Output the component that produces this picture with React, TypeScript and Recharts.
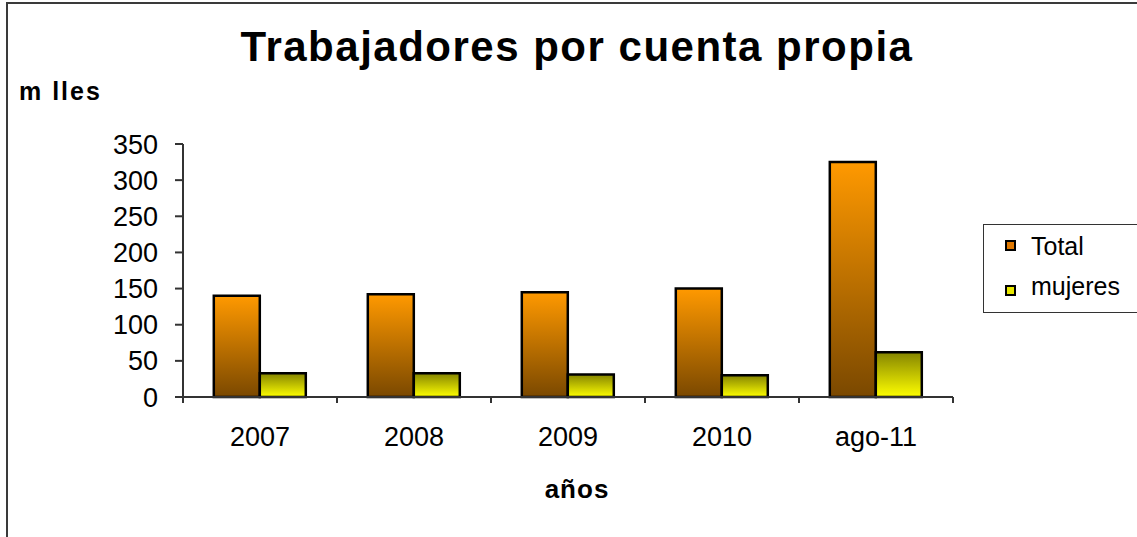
import { Bar, BarChart, XAxis, YAxis } from "recharts";

const CATEGORIES = ["2007", "2008", "2009", "2010", "ago-11"];
const TOTAL = [140, 142, 145, 150, 325];
const MUJERES = [33, 33, 31, 30, 62];
const Y_TICKS = [0, 50, 100, 150, 200, 250, 300, 350];

const SERIES = [
  { key: "total", label: "Total", grad: "gTotal", top: "#ff9900", bottom: "#7a4800", swatch: "#e07800" },
  { key: "mujeres", label: "mujeres", grad: "gMujeres", top: "#858500", bottom: "#ffff00", swatch: "#e8e800" },
];

const FONT = '"Liberation Sans", Arial, sans-serif';
const X_TICK_GAP = 30; // axis line to top of the labels

const data = CATEGORIES.map((c, i) => ({ name: c, total: TOTAL[i], mujeres: MUJERES[i] }));

// Excel puts the x tick marks between the categories, so draw them from the band offset
function CategoryTick(props: any) {
  const { x, y, payload, index } = props;
  const half = payload?.offset ?? 0;
  const axisY = y - X_TICK_GAP;
  const last = index === CATEGORIES.length - 1;
  return (
    <g>
      <line x1={x - half} x2={x - half} y1={axisY} y2={axisY + 6} stroke="#333" strokeWidth={2} />
      {last && (
        <line x1={x + half} x2={x + half} y1={axisY} y2={axisY + 6} stroke="#333" strokeWidth={2} />
      )}
      <text x={x} y={y} dy="0.71em" textAnchor="middle" fontSize={27} fill="#000" fontFamily={FONT}>
        {payload.value}
      </text>
    </g>
  );
}

export default function App() {
  return (
    <div
      style={{
        position: "fixed",
        left: 0,
        top: 0,
        width: 1137,
        height: 537,
        overflow: "hidden",
        background: "#fff",
        fontFamily: FONT,
        color: "#000",
      }}
    >
      {/* outer frame, right and bottom run off the picture */}
      <div
        style={{
          position: "absolute",
          left: 6,
          top: 2,
          width: 1200,
          height: 600,
          border: "2px solid #3a3a3a",
        }}
      />

      <div
        style={{
          position: "absolute",
          left: 0,
          top: 26,
          width: 1154,
          textAlign: "center",
          fontSize: 42,
          fontWeight: 700,
          lineHeight: 1,
          letterSpacing: 1.5,
          whiteSpace: "nowrap",
        }}
      >
        Trabajadores por cuenta propia
      </div>

      <div
        style={{
          position: "absolute",
          left: 19,
          top: 79,
          fontSize: 25,
          fontWeight: 700,
          lineHeight: 1,
          letterSpacing: 2,
          whiteSpace: "nowrap",
        }}
      >
        m lles
      </div>

      <div
        style={{
          position: "absolute",
          left: 0,
          top: 476,
          width: 1154,
          textAlign: "center",
          fontSize: 26,
          fontWeight: 700,
          lineHeight: 1,
          letterSpacing: 1,
        }}
      >
        años
      </div>

      <div style={{ position: "absolute", left: 0, top: 0 }}>
        <BarChart
          width={1137}
          height={537}
          data={data}
          margin={{ top: 144, right: 184, bottom: 80, left: 0 }}
          barCategoryGap="20%"
          barGap={0}
        >
          <defs>
            {SERIES.map((s) => (
              <linearGradient key={s.grad} id={s.grad} x1="0" y1="0" x2="0" y2="1">
                <stop offset="0%" stopColor={s.top} />
                <stop offset="100%" stopColor={s.bottom} />
              </linearGradient>
            ))}
          </defs>
          <XAxis
            dataKey="name"
            tickLine={false}
            axisLine={{ stroke: "#333", strokeWidth: 2 }}
            tickSize={0}
            tickMargin={X_TICK_GAP}
            height={60}
            interval={0}
            tick={CategoryTick}
          />
          <YAxis
            domain={[0, 350]}
            ticks={Y_TICKS}
            interval={0}
            width={183}
            tickSize={8}
            tickMargin={17}
            axisLine={{ stroke: "#333", strokeWidth: 2 }}
            tickLine={{ stroke: "#333", strokeWidth: 2 }}
            tick={{ fontSize: 27, fill: "#000", fontFamily: FONT }}
          />
          {SERIES.map((s) => (
            <Bar
              key={s.key}
              dataKey={s.key}
              name={s.label}
              fill={`url(#${s.grad})`}
              stroke="#000"
              strokeWidth={2.5}
              isAnimationActive={false}
            />
          ))}
        </BarChart>
      </div>

      {/* legend */}
      <div
        style={{
          position: "absolute",
          left: 983,
          top: 224,
          width: 170,
          height: 87,
          border: "1.5px solid #333",
        }}
      />
      {SERIES.map((s, i) => (
        <div key={s.key}>
          <div
            style={{
              position: "absolute",
              left: 1005,
              top: 240 + i * 45,
              width: 7,
              height: 7,
              background: s.swatch,
              border: "2px solid #000",
            }}
          />
          <div
            style={{
              position: "absolute",
              left: 1031,
              top: 234 + i * 40,
              fontSize: 25,
              lineHeight: 1,
              whiteSpace: "nowrap",
            }}
          >
            {s.label}
          </div>
        </div>
      ))}
    </div>
  );
}
